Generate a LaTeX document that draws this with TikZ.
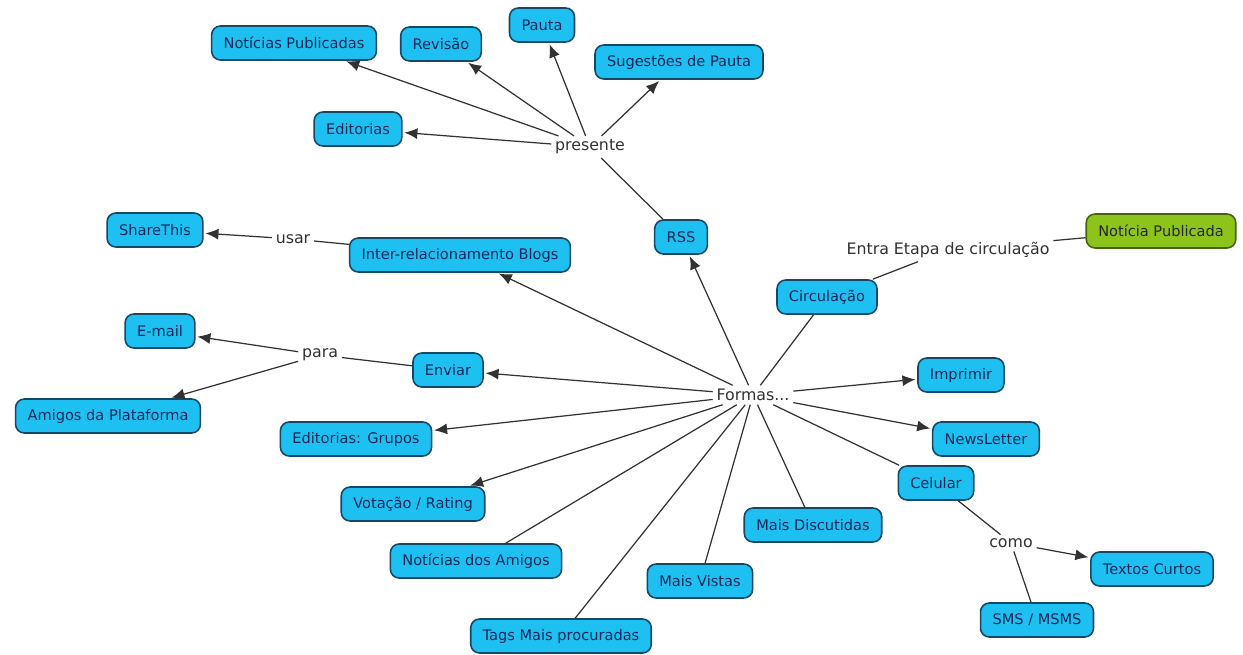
\documentclass[tikz,border=0pt]{standalone}
\usepackage{fontspec}
\setmainfont{DejaVu Sans}
\usetikzlibrary{arrows.meta}
\definecolor{qianlan}{RGB}{30,192,242}
\definecolor{shenlan}{RGB}{22,72,102}
\definecolor{zilan}{RGB}{12,40,88}
\definecolor{caolv}{RGB}{141,196,28}
\definecolor{shenlv}{RGB}{72,98,18}
\definecolor{huixian}{RGB}{50,50,50}
\tikzset{ %概念图样式
    gainian/.style={draw=shenlan, fill=qianlan, text=zilan, line width=0.9pt,
        rounded corners=5pt, minimum height=0.68cm, inner xsep=0.24cm,
        font=\fontsize{8.3}{10}\selectfont},
    fabu/.style={gainian, draw=shenlv, fill=caolv, text=black!85},
    guanxi/.style={fill=white, text=huixian, inner sep=2pt,
        font=\fontsize{9}{10}\selectfont},
    xian/.style={draw=huixian, line width=0.7pt},
    jian/.style={xian, -{Latex[length=2.6mm,width=2.2mm]}, shorten >=1pt},
}
\begin{document}
\begin{tikzpicture}[x=0.02cm, y=-0.02cm]
	\useasboundingbox (0,0) rectangle (1243,655);
	% 概念
	\node[gainian] (notpub) at (294,43) {Notícias Publicadas};
	\node[gainian] (revisao) at (441,44) {Revisão};
	\node[gainian] (pauta) at (542,25) {Pauta};
	\node[gainian] (sugest) at (679,62) {Sugestões de Pauta};
	\node[gainian] (editorias) at (358,129) {Editorias};
	\node[gainian] (rss) at (681,237) {RSS};
	\node[fabu] (noticia) at (1161,231) {Notícia Publicada};
	\node[gainian] (circ) at (827,297) {Circulação};
	\node[gainian] (share) at (155,230) {ShareThis};
	\node[gainian] (blogs) at (460,255) {Inter-relacionamento Blogs};
	\node[gainian] (email) at (160,331) {E-mail};
	\node[gainian] (enviar) at (448,370) {Enviar};
	\node[gainian] (amigos) at (108,416) {Amigos da Plataforma};
	\node[gainian] (grupos) at (356,439) {Editorias: Grupos};
	\node[gainian] (imprimir) at (961,375) {Imprimir};
	\node[gainian] (news) at (986,439) {NewsLetter};
	\node[gainian] (celular) at (936,483) {Celular};
	\node[gainian] (votacao) at (413,504) {Votação / Rating};
	\node[gainian] (discut) at (813,525) {Mais Discutidas};
	\node[gainian] (namigos) at (476,561) {Notícias dos Amigos};
	\node[gainian] (vistas) at (700,581) {Mais Vistas};
	\node[gainian] (tags) at (561,636) {Tags Mais procuradas};
	\node[gainian] (curtos) at (1152,569) {Textos Curtos};
	\node[gainian] (sms) at (1037,620) {SMS / MSMS};
	% 连接词
	\node[guanxi] (presente) at (590,147) {presente};
	\node[guanxi] (entra) at (948,250) {Entra Etapa de circulação};
	\node[guanxi] (usar) at (293,239) {usar};
	\node[guanxi] (para) at (320,355) {para};
	\node[guanxi] (formas) at (753,395) {Formas...};
	\node[guanxi] (como) at (1011,543) {como};
	% 连线
	\foreach \t in {notpub,revisao,pauta,sugest,editorias}{
		\draw[jian] (presente) -- (\t);
	}
	\draw[xian] (rss) -- (presente);
	\foreach \t in {rss,blogs,enviar,grupos,votacao,imprimir,news}{
		\draw[jian] (formas) -- (\t);
	}
	\foreach \t in {circ,celular,discut,vistas,tags,namigos}{
		\draw[xian] (formas) -- (\t);
	}
	\draw[xian] (circ) -- (entra) -- (noticia);
	\draw[xian] (blogs) -- (usar);
	\draw[jian] (usar) -- (share);
	\draw[xian] (enviar) -- (para);
	\draw[jian] (para) -- (email);
	\draw[jian] (para) -- (amigos);
	\draw[xian] (celular) -- (como);
	\draw[jian] (como) -- (curtos);
	\draw[xian] (como) -- (sms);
\end{tikzpicture}
\end{document}
